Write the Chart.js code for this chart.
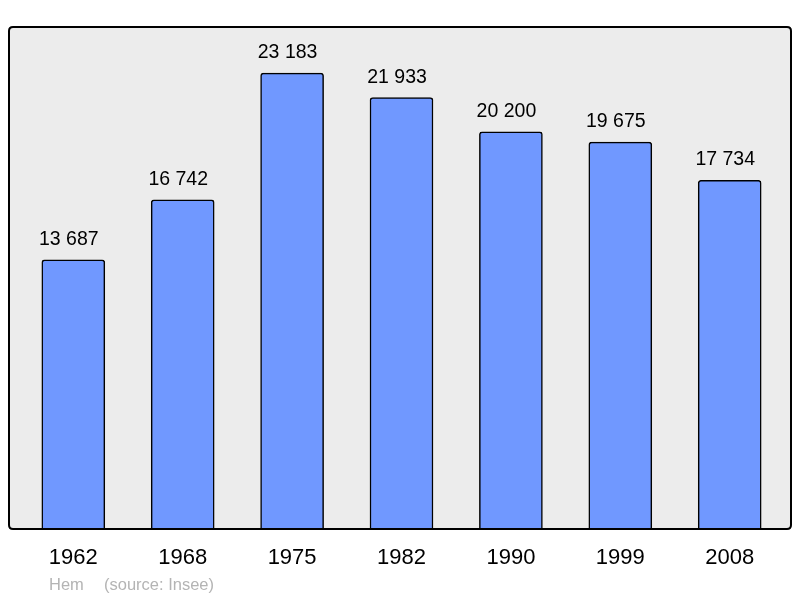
<!DOCTYPE html>
<html>
<head>
<meta charset="utf-8">
<script src="https://cdn.jsdelivr.net/npm/chart.js@4/dist/chart.umd.min.js"></script>
<style>
  html, body { margin: 0; padding: 0; background: #fff; }
  #wrap { width: 800px; height: 598px; }
</style>
</head>
<body>
<div id="wrap"><canvas id="myChart" width="800" height="598"></canvas></div>
<script>
const years = ['1962', '1968', '1975', '1982', '1990', '1999', '2008'];
const population = [13687, 16742, 23183, 21933, 20200, 19675, 17734];
const townName = 'Hem';
const sourceText = '(source: Insee)';

const fontFamily = '"Liberation Sans", Arial, sans-serif';

// space as thousands separator, like the french original
function formatNumber(n) {
    return String(n).replace(/\B(?=(\d{3})+(?!\d))/g, ' ');
}

function roundRect(ctx, x, y, w, h, r) {
    ctx.beginPath();
    ctx.moveTo(x + r, y);
    ctx.lineTo(x + w - r, y);
    ctx.quadraticCurveTo(x + w, y, x + w, y + r);
    ctx.lineTo(x + w, y + h - r);
    ctx.quadraticCurveTo(x + w, y + h, x + w - r, y + h);
    ctx.lineTo(x + r, y + h);
    ctx.quadraticCurveTo(x, y + h, x, y + h - r);
    ctx.lineTo(x, y + r);
    ctx.quadraticCurveTo(x, y, x + r, y);
    ctx.closePath();
}

const frameBox = { left: 9, top: 27, right: 791 };

const framePlugin = {
    id: 'frame',
    beforeDatasetsDraw(chart) {
        const ctx = chart.ctx;
        const b = chart.chartArea.bottom;
        ctx.save();
        roundRect(ctx, frameBox.left, frameBox.top, frameBox.right - frameBox.left, b - frameBox.top, 4);
        ctx.fillStyle = '#ececec';
        ctx.fill();
        ctx.restore();
    },
    afterDatasetsDraw(chart) {
        const ctx = chart.ctx;
        const b = chart.chartArea.bottom;
        ctx.save();
        roundRect(ctx, frameBox.left, frameBox.top, frameBox.right - frameBox.left, b - frameBox.top, 4);
        ctx.lineWidth = 2;
        ctx.strokeStyle = '#000';
        ctx.stroke();

        // value labels above each bar (slightly left of centre, as in the original)
        const meta = chart.getDatasetMeta(0);
        ctx.fillStyle = '#000';
        ctx.font = '19.5px ' + fontFamily;
        ctx.textAlign = 'center';
        ctx.textBaseline = 'alphabetic';
        meta.data.forEach((bar, i) => {
            ctx.fillText(formatNumber(population[i]), bar.x - 4.5, bar.y - 15);
        });

        // source line
        ctx.fillStyle = '#b4b4b4';
        ctx.font = '16.5px ' + fontFamily;
        ctx.textAlign = 'left';
        ctx.fillText(townName, 49, 590);
        ctx.fillText(sourceText, 104, 590);
        ctx.restore();
    }
};

const chart = document.querySelector('#myChart');
const myChart = new Chart(chart, {
    type: 'bar',
    data: {
        labels: years,
        datasets: [{
            data: population,
            backgroundColor: '#7098ff',
            borderColor: '#000',
            borderWidth: 1.5,
            borderRadius: 3,
            borderSkipped: 'bottom',
            barThickness: 63
        }]
    },
    options: {
        responsive: false,
        animation: false,
        events: [],
        layout: {
            padding: { left: 18.6, right: 15.6, top: 27, bottom: 10.6 }
        },
        plugins: {
            legend: { display: false },
            tooltip: { enabled: false }
        },
        scales: {
            x: {
                grid: { display: false, drawTicks: false },
                border: { display: false },
                ticks: {
                    color: '#000',
                    padding: 16,
                    font: { size: 22, family: fontFamily }
                }
            },
            y: {
                display: false,
                min: 0,
                max: 25527
            }
        }
    },
    plugins: [framePlugin]
});
</script>
</body>
</html>
